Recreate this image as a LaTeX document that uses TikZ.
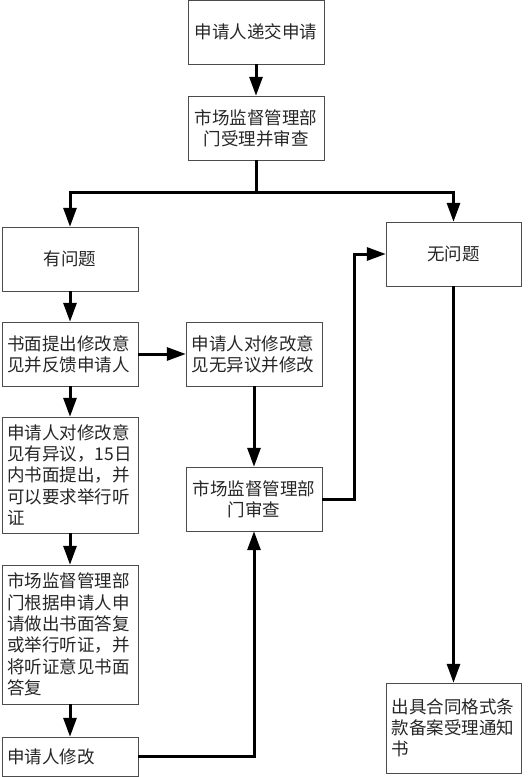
\documentclass[tikz,border=0pt]{standalone}
\usepackage{fontspec}
\setmainfont{Noto Sans CJK SC}
\usepackage{tikz}
\usetikzlibrary{arrows.meta,positioning}

\begin{document}
\begin{tikzpicture}[
  x=1pt, y=-1pt,
  every node/.style={rectangle, draw=black!70, thin, text=black!85, font=\fontsize{17.5}{21.3}\selectfont, inner sep=5pt, minimum width=136pt, minimum height=64pt},
  midbox/.style={align=center},
  leftbox/.style={align=left, text width=125pt},
  flow/.style={draw, line width=3pt, -{Triangle[width=13pt, length=19pt]}}
]
\useasboundingbox (0,0) rectangle (530,777);
\node[midbox] (apply) at (256,32) {申请人递交申请};
\node[midbox] (accept) at (256,128) {市场监督管理部\\门受理并审查};
\node[midbox] (problem) at (70,259) {有问题};
\node[midbox, minimum width=135pt] (noproblem) at (453.5,254) {无问题};
\node[leftbox] (written) at (70,354) {书面提出修改意\\见并反馈申请人};
\node[leftbox] (agree) at (254,354) {申请人对修改意\\见无异议并修改};
\node[leftbox, minimum height=116pt] (object) at (70,475) {申请人对修改意\\见有异议，15日\\内书面提出，并\\可以要求举行听\\证};
\node[midbox] (review) at (254,499) {市场监督管理部\\门审查};
\node[leftbox, minimum height=139pt] (reply) at (70,634.5) {市场监督管理部\\门根据申请人申\\请做出书面答复\\或举行听证，并\\将听证意见书面\\答复};
\node[leftbox, minimum height=39pt] (modify) at (70,756.5) {申请人修改};
\node[leftbox, minimum width=135pt, text width=124pt, minimum height=90pt] (notice) at (453.5,728) {出具合同格式条\\款备案受理通知\\书};
\coordinate (split) at (256,192);

\draw[flow] (apply) -- (accept);
\draw[line width=3pt] (accept) -- (split);
\draw[flow] (split) -| (problem);
\draw[flow] (split) -| (noproblem);
\draw[flow] (problem) -- (written);
\draw[flow] (written) -- (agree);
\draw[flow] (written) -- (object);
\draw[flow] (object) -- (reply);
\draw[flow] (reply) -- (modify);
\draw[flow] (agree) -- (review);
\draw[flow] (modify) -| (review);
\draw[flow] (review.east) -- ++(32,0) |- (noproblem);
\draw[flow] (noproblem) -- (notice);
\end{tikzpicture}
\end{document}
